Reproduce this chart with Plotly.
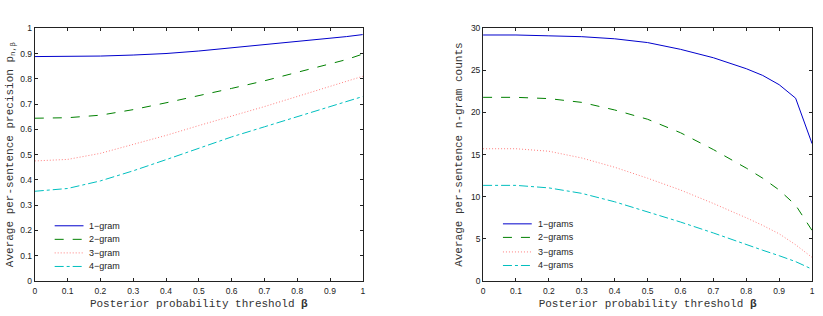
import plotly.graph_objects as go

beta = [0, 0.1, 0.2, 0.3, 0.4, 0.5, 0.6, 0.7, 0.8, 0.85, 0.9, 0.95, 1.0]

# Left: average per-sentence precision
prec_1 = [0.888, 0.888, 0.890, 0.894, 0.900, 0.910, 0.922, 0.935, 0.947, 0.953, 0.960, 0.967, 0.975]
prec_2 = [0.644, 0.646, 0.656, 0.678, 0.705, 0.733, 0.762, 0.792, 0.825, 0.840, 0.857, 0.876, 0.898]
prec_3 = [0.475, 0.481, 0.505, 0.540, 0.576, 0.615, 0.651, 0.690, 0.730, 0.750, 0.770, 0.790, 0.810]
prec_4 = [0.355, 0.366, 0.396, 0.436, 0.480, 0.525, 0.570, 0.610, 0.650, 0.670, 0.690, 0.710, 0.730]

# Right: average per-sentence n-gram counts
cnt_1 = [29.2, 29.2, 29.1, 29.0, 28.75, 28.3, 27.5, 26.5, 25.2, 24.4, 23.3, 21.7, 16.3]
cnt_2 = [21.8, 21.8, 21.65, 21.2, 20.3, 19.2, 17.6, 15.6, 13.4, 12.2, 10.8, 9.0, 6.0]
cnt_3 = [15.7, 15.7, 15.4, 14.6, 13.5, 12.2, 10.8, 9.2, 7.5, 6.6, 5.6, 4.3, 2.8]
cnt_4 = [11.35, 11.35, 11.05, 10.4, 9.4, 8.2, 7.0, 5.7, 4.3, 3.65, 3.0, 2.3, 1.4]

names_left = ["1\u2212gram", "2\u2212gram", "3\u2212gram", "4\u2212gram"]
names_right = ["1\u2212grams", "2\u2212grams", "3\u2212grams", "4\u2212grams"]
colors = ["#0000cc", "#008000", "#ff7f7f", "#00bfbf"]
dashes = ["solid", "dash", "1px,2px", "dashdot"]

W, H = 823, 316

fig = go.Figure()
for ys, nm, c, d in zip([prec_1, prec_2, prec_3, prec_4], names_left, colors, dashes):
    fig.add_trace(go.Scatter(x=beta, y=ys, mode="lines", name=nm, showlegend=False,
                             line=dict(color=c, dash=d, width=1),
                             xaxis="x", yaxis="y"))
for ys, nm, c, d in zip([cnt_1, cnt_2, cnt_3, cnt_4], names_right, colors, dashes):
    fig.add_trace(go.Scatter(x=beta, y=ys, mode="lines", name=nm, showlegend=False,
                             line=dict(color=c, dash=d, width=1),
                             xaxis="x2", yaxis="y2"))

# Compact MATLAB-style legends (drawn as paper-referenced shapes + text)
legend_font = dict(family="Liberation Sans, Arial", size=9, color="#222")
shapes, annotations = [], []
for (x0, x1, xt_, rows, names) in [
    (53, 82, 86, [228, 242, 256, 270], names_left),
    (504, 533, 537, [226, 240, 255, 269], names_right),
]:
    for r, nm, c, d in zip(rows, names, colors, dashes):
        yy = 1 - r / H
        shapes.append(dict(type="line", xref="paper", yref="paper",
                           x0=x0 / W, x1=x1 / W, y0=yy, y1=yy,
                           line=dict(color=c, dash=d, width=1)))
        annotations.append(dict(xref="paper", yref="paper", x=xt_ / W, y=yy,
                                xanchor="left", yanchor="middle", text=nm,
                                showarrow=False, font=legend_font))

tickfont = dict(family="Liberation Sans, Arial", size=8.5, color="#222")
titlefont = dict(family="Liberation Mono", size=11, color="#333")
ax_common = dict(showline=True, linecolor="#222", linewidth=1, mirror="ticks",
                 ticks="inside", ticklen=3, tickcolor="#222", showgrid=False,
                 zeroline=False, tickfont=tickfont)

xt = [0, 0.1, 0.2, 0.3, 0.4, 0.5, 0.6, 0.7, 0.8, 0.9, 1]
xtl = ["0", "0.1", "0.2", "0.3", "0.4", "0.5", "0.6", "0.7", "0.8", "0.9", "1"]

fig.update_layout(
    width=W, height=H,
    margin=dict(l=0, r=0, t=0, b=0),
    paper_bgcolor="white", plot_bgcolor="white",
    showlegend=False,
    shapes=shapes, annotations=annotations,
    xaxis=dict(domain=[0.0401, 0.4411], range=[0, 1], tickvals=xt, ticktext=xtl,
               ticklabelstandoff=2,
               title=dict(text="Posterior probability threshold <b>\u03b2</b>", font=titlefont, standoff=4),
               anchor="y", **ax_common),
    yaxis=dict(domain=[0.0981, 0.924], range=[0, 1], tickvals=[i / 10 for i in range(11)],
               ticktext=["0", "0.1", "0.2", "0.3", "0.4", "0.5", "0.6", "0.7", "0.8", "0.9", "1"],
               title=dict(text="Average per-sentence precision p<sub>n,\u03b2</sub>", font=titlefont, standoff=4),
               anchor="x", **ax_common),
    xaxis2=dict(domain=[0.5881, 0.9903], range=[0, 1], tickvals=xt, ticktext=xtl,
                ticklabelstandoff=2,
                title=dict(text="Posterior probability threshold <b>\u03b2</b>", font=titlefont, standoff=4),
                anchor="y2", **ax_common),
    yaxis2=dict(domain=[0.0981, 0.924], range=[0, 30], tickvals=[0, 5, 10, 15, 20, 25, 30],
                title=dict(text="Average per-sentence n-gram counts", font=titlefont, standoff=6),
                anchor="x2", **ax_common),
)

fig.write_html("out.html")
